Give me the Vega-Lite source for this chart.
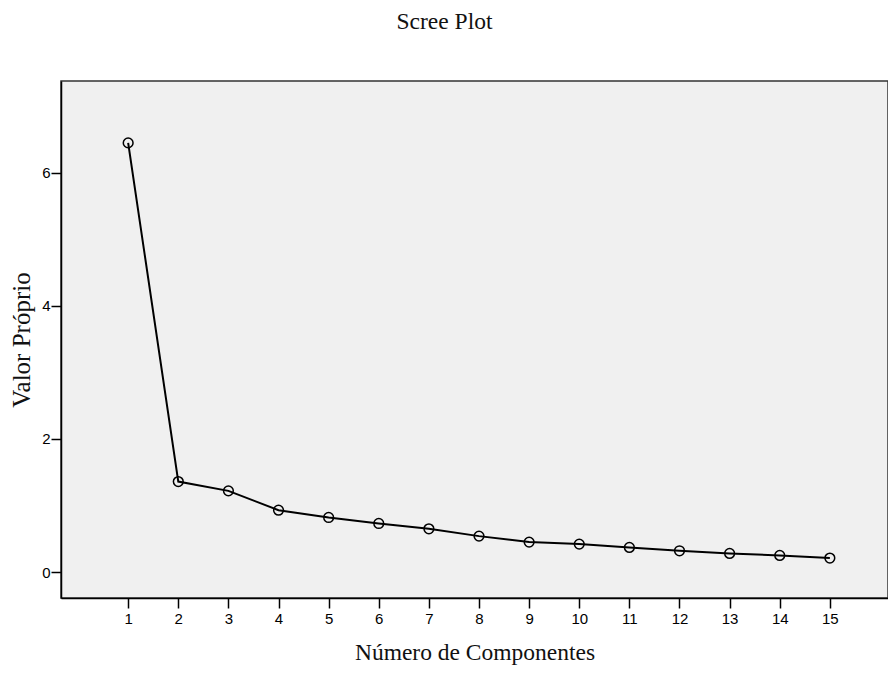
{
  "$schema": "https://vega.github.io/schema/vega-lite/v6.json",
  "autosize": "none",
  "width": 827,
  "height": 517,
  "padding": {"left": 61, "top": 81, "right": 0, "bottom": 75},
  "background": "white",
  "title": {"text": "Scree Plot", "font": "Liberation Serif", "fontSize": 23.5, "fontWeight": "normal", "color": "#111", "anchor": "middle", "dx": -30, "offset": 48},
  "config": {
    "view": {"fill": "#F0F0F0", "stroke": "#333", "strokeWidth": 1.5},
    "axis": {"grid": false, "domainColor": "#000", "domainWidth": 1.5, "tickColor": "#000", "tickWidth": 1.5, "labelFont": "Liberation Sans", "labelFontSize": 15, "labelColor": "#000", "titleFont": "Liberation Serif", "titleFontSize": 23.5, "titleFontWeight": "normal", "titleColor": "#111"}
  },
  "data": {"values": [
    {"componente": 1, "valor": 6.45},
    {"componente": 2, "valor": 1.36},
    {"componente": 3, "valor": 1.22},
    {"componente": 4, "valor": 0.93},
    {"componente": 5, "valor": 0.82},
    {"componente": 6, "valor": 0.73},
    {"componente": 7, "valor": 0.65},
    {"componente": 8, "valor": 0.54},
    {"componente": 9, "valor": 0.45},
    {"componente": 10, "valor": 0.42},
    {"componente": 11, "valor": 0.37},
    {"componente": 12, "valor": 0.32},
    {"componente": 13, "valor": 0.28},
    {"componente": 14, "valor": 0.25},
    {"componente": 15, "valor": 0.21}
  ]},
  "encoding": {
    "x": {"field": "componente", "type": "quantitative", "scale": {"domain": [-0.34, 16.16], "nice": false, "zero": false},
      "axis": {"title": "Número de Componentes", "values": [1,2,3,4,5,6,7,8,9,10,11,12,13,14,15], "tickSize": 10, "labelPadding": 3, "titlePadding": 14}},
    "y": {"field": "valor", "type": "quantitative", "scale": {"domain": [-0.39, 7.38], "nice": false, "zero": false},
      "axis": {"title": "Valor Próprio", "titleFontSize": 25, "values": [0, 2, 4, 6], "tickSize": 10, "labelPadding": 1, "titlePadding": 7}}
  },
  "layer": [
    {"mark": {"type": "line", "color": "#000", "strokeWidth": 2}},
    {"mark": {"type": "point", "shape": "circle", "filled": false, "color": "#000", "strokeWidth": 1.5, "size": 95, "opacity": 1}}
  ]
}
